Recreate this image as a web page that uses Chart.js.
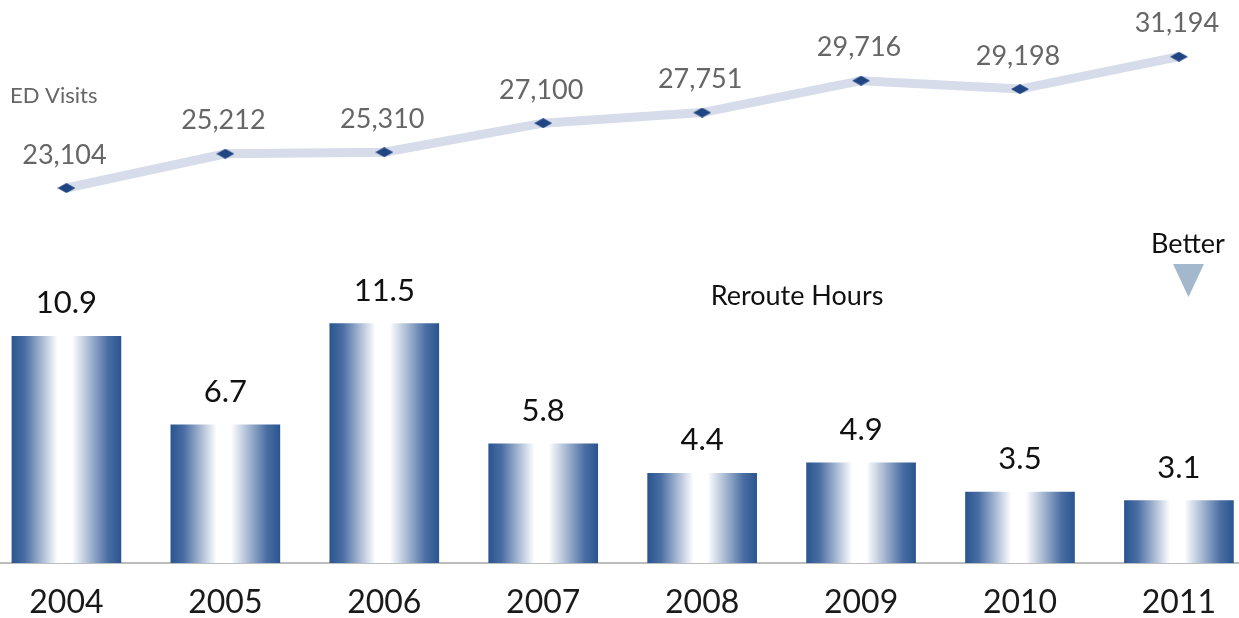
<!DOCTYPE html>
<html>
<head>
<meta charset="utf-8">
<script src="https://cdn.jsdelivr.net/npm/chart.js@4.4.1/dist/chart.umd.min.js"></script>
<style>
  html, body { margin: 0; padding: 0; background: #fff; overflow: hidden; }
  #wrap { width: 1239px; height: 618px; position: relative; }
</style>
</head>
<body>
<div id="wrap"><canvas id="chart"></canvas></div>
<script>
const years = ['2004', '2005', '2006', '2007', '2008', '2009', '2010', '2011'];
const rerouteHours = [10.9, 6.7, 11.5, 5.8, 4.4, 4.9, 3.5, 3.1];
const edVisits = [23104, 25212, 25310, 27100, 27751, 29716, 29198, 31194];

const FONT = 'Lato, "Open Sans", sans-serif';
const BAR_W = 109;
const BLUE = '#2b5691';

// flattened diamond marker for the line
function makeDiamond() {
    const c = document.createElement('canvas');
    c.width = 18; c.height = 10;
    const g = c.getContext('2d');
    g.fillStyle = '#1f4583';
    g.beginPath();
    g.moveTo(0, 5); g.lineTo(9, 0); g.lineTo(18, 5); g.lineTo(9, 10);
    g.closePath();
    g.fill();
    return c;
}
const diamond = makeDiamond();

function barGradient(c) {
    const chart = c.chart;
    if (!chart.chartArea) return BLUE;
    const x = chart.scales.x.getPixelForValue(c.dataIndex);
    const g = chart.ctx.createLinearGradient(x - BAR_W / 2, 0, x + BAR_W / 2, 0);
    g.addColorStop(0, '#2a5590');
    g.addColorStop(0.12, '#4a6ea3');
    g.addColorStop(0.42, '#ffffff');
    g.addColorStop(0.55, '#ffffff');
    g.addColorStop(0.88, '#4a6ea3');
    g.addColorStop(1, '#2a5590');
    return g;
}

const labelsPlugin = {
    id: 'labels',
    afterDatasetsDraw(chart) {
        const ctx = chart.ctx;
        ctx.save();
        ctx.textAlign = 'center';
        ctx.textBaseline = 'middle';

        // bar values
        ctx.fillStyle = '#111';
        ctx.font = '31px ' + FONT;
        chart.getDatasetMeta(0).data.forEach((el, i) => {
            ctx.fillText(rerouteHours[i].toFixed(1), el.x, el.y - 33);
        });

        // line values
        ctx.fillStyle = '#666';
        ctx.font = '27px ' + FONT;
        chart.getDatasetMeta(1).data.forEach((el, i) => {
            ctx.fillText(edVisits[i].toLocaleString('en-US'), el.x - 2, el.y - 33);
        });

        // series names
        ctx.fillStyle = '#111';
        ctx.font = '27px ' + FONT;
        ctx.fillText('Reroute Hours', 797, 296);
        ctx.fillText('Better', 1188, 244);

        ctx.fillStyle = '#666';
        ctx.font = '22px ' + FONT;
        ctx.textAlign = 'left';
        ctx.fillText('ED Visits', 10, 96);

        // "better" arrow
        ctx.fillStyle = '#a3b8cc';
        ctx.beginPath();
        ctx.moveTo(1173, 264);
        ctx.lineTo(1204, 264);
        ctx.lineTo(1188.5, 297);
        ctx.closePath();
        ctx.fill();
        ctx.restore();
    }
};

new Chart(document.getElementById('chart'), {
    data: {
        datasets: [{
            type: 'bar',
            label: 'Reroute Hours',
            data: rerouteHours.map((v, i) => ({ x: i, y: v })),
            backgroundColor: barGradient,
            borderWidth: 0,
            barThickness: BAR_W,
            yAxisID: 'y',
            order: 2
        }, {
            type: 'line',
            label: 'ED Visits',
            data: edVisits.map((v, i) => ({ x: i, y: v })),
            borderColor: '#d6dce9',
            borderWidth: 9,
            pointStyle: diamond,
            pointRadius: 9,
            yAxisID: 'y2',
            order: 1
        }]
    },
    options: {
        responsive: true,
        maintainAspectRatio: false,
        animation: false,
        layout: { padding: 0, autoPadding: false },
        plugins: {
            legend: { display: false },
            tooltip: { enabled: false }
        },
        scales: {
            x: {
                type: 'linear',
                offset: false,
                min: -0.418,
                max: 7.378,
                grid: { display: false },
                border: { display: true, color: '#bdbdbd', width: 2 },
                afterBuildTicks: axis => {
                    axis.ticks = years.map((_, i) => ({ value: i }));
                },
                afterFit: axis => { axis.height = 55; },
                ticks: {
                    padding: 12,
                    color: '#1a1a1a',
                    font: { family: FONT, size: 32 },
                    callback: v => years[v]
                }
            },
            y: {
                display: false,
                min: 0.14,
                max: 26.86
            },
            y2: {
                display: false,
                min: 0,
                max: 34687
            }
        }
    },
    plugins: [labelsPlugin]
});
</script>
</body>
</html>
